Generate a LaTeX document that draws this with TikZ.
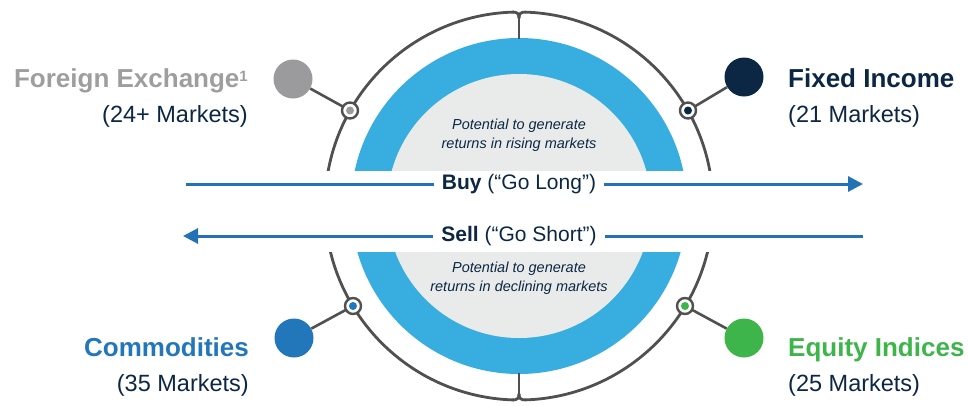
\documentclass[tikz,border=0pt]{standalone}
\usepackage{fontspec}
\setmainfont{Liberation Sans}
\usetikzlibrary{arrows.meta}

\definecolor{ringgray}{HTML}{505050}
\definecolor{ringblue}{HTML}{38ADE0}
\definecolor{coregray}{HTML}{E9EBEB}
\definecolor{arrowblue}{HTML}{2372B5}
\definecolor{navy}{HTML}{0C2743}
\definecolor{fxdot}{HTML}{9B9B9E}
\definecolor{fxtext}{HTML}{9E9EA0}
\definecolor{commblue}{HTML}{2277BB}
\definecolor{eqgreen}{HTML}{3DB54A}

\begin{document}
\begin{tikzpicture}[x=1pt,y=-1pt,
  ringline/.style={draw=ringgray,line width=2.8pt},
  spoke/.style={draw=ringgray,line width=2.6pt},
  bigdot/.style={circle,minimum size=39pt,inner sep=0pt},
  port/.style={circle,draw=ringgray,line width=2.4pt,fill=white,minimum size=16pt,inner sep=0pt},
  portdot/.style={circle,minimum size=8pt,inner sep=0pt},
  title/.style={font=\fontsize{26}{30}\selectfont\bfseries,inner sep=0pt},
  count/.style={font=\fontsize{23.5}{28}\selectfont,text=navy,inner sep=0pt},
  note/.style={font=\fontsize{14.5}{19}\selectfont\itshape,text=navy,align=center,inner sep=0pt},
  flowlabel/.style={font=\fontsize{21}{25}\selectfont,text=navy,inner xsep=8pt,inner ysep=2pt},
  flowline/.style={draw=arrowblue,line width=3pt},
  flowtip/.style={-{Triangle[length=15pt,width=15pt]}}
]
\useasboundingbox (0,0) rectangle (968,405);

% upper half of the dial
\begin{scope}
  \clip (0,0) rectangle (968,170);
  \draw[ringline] (519,206) circle (194pt);
  \fill[ringblue] (519,206) circle (168pt);
  \fill[coregray] (519,206) circle (132pt);
\end{scope}
% lower half of the dial
\begin{scope}
  \clip (0,252) rectangle (968,405);
  \draw[ringline] (519,206) circle (194pt);
  \fill[ringblue] (519,206) circle (168pt);
  \fill[coregray] (519,206) circle (132pt);
\end{scope}

% notched joints where the rim meets the stems
\fill[white] (513.5,7) rectangle (524.5,16.5);
\draw[ringline,line cap=round] (513,12.1) .. controls (517,12.1) and (519,13.5) .. (519,18);
\draw[ringline,line cap=round] (525,12.1) .. controls (521,12.1) and (519,13.5) .. (519,18);
\draw[ringline] (519,16) -- (519,39);
\fill[white] (513.5,395.5) rectangle (524.5,405);
\draw[ringline,line cap=round] (513,399.9) .. controls (517,399.9) and (519,398.5) .. (519,394);
\draw[ringline,line cap=round] (525,399.9) .. controls (521,399.9) and (519,398.5) .. (519,394);
\draw[ringline] (519,396) -- (519,373);

% ports on the rim
\coordinate (pfx) at (350,110.5);
\coordinate (pfi) at (688,110.5);
\coordinate (pcm) at (353,306);
\coordinate (peq) at (685,306);

% asset-class dots
\node[bigdot,fill=fxdot] (dfx) at (293,79) {};
\node[bigdot,fill=navy] (dfi) at (744,77) {};
\node[bigdot,fill=commblue] (dcm) at (294,338) {};
\node[bigdot,fill=eqgreen] (deq) at (744,338) {};

\draw[spoke] (dfx) -- (pfx);
\draw[spoke] (dfi) -- (pfi);
\draw[spoke] (dcm) -- (pcm);
\draw[spoke] (deq) -- (peq);

\node[port] (rfx) at (pfx) {};
\node[port] (rfi) at (pfi) {};
\node[port] (rcm) at (pcm) {};
\node[port] (req) at (peq) {};
\node[portdot,fill=fxdot] at (pfx) {};
\node[portdot,fill=navy] at (pfi) {};
\node[portdot,fill=commblue] at (pcm) {};
\node[portdot,fill=eqgreen] at (peq) {};

% labels
\node[title,text=fxtext,anchor=base east] (tfx) at (248,87) {Foreign Exchange\raisebox{6pt}{\fontsize{15}{15}\selectfont\bfseries 1}};
\node[count,anchor=base east] (nfx) at (248,122) {(24+ Markets)};
\node[title,text=navy,anchor=base west] (tfi) at (788,87) {Fixed Income};
\node[count,anchor=base west] (nfi) at (788,122) {(21 Markets)};
\node[title,text=commblue,anchor=base east] (tcm) at (249,356) {Commodities};
\node[count,anchor=base east] (ncm) at (249,391) {(35 Markets)};
\node[title,text=eqgreen,anchor=base west] (teq) at (788,356) {Equity Indices};
\node[count,anchor=base west] (neq) at (788,391) {(25 Markets)};

\node[note] (up) at (519,135.5) {Potential to generate\\returns in rising markets};
\node[note] (down) at (519,278) {Potential to generate\\returns in declining markets};

% buy / sell flows
\node[flowlabel] (buy) at (519,184) {\textbf{Buy} (“Go Long”)};
\node[flowlabel] (sell) at (519,236) {\textbf{Sell} (“Go Short”)};
\coordinate (buyL) at (186,184);
\coordinate (buyR) at (863,184);
\coordinate (sellL) at (183,236);
\coordinate (sellR) at (863,236);
\draw[flowline] (buyL) -- (buy.west);
\draw[flowline,flowtip] (buy.east) -- (buyR);
\draw[flowline] (sellR) -- (sell.east);
\draw[flowline,flowtip] (sell.west) -- (sellL);
\end{tikzpicture}
\end{document}
